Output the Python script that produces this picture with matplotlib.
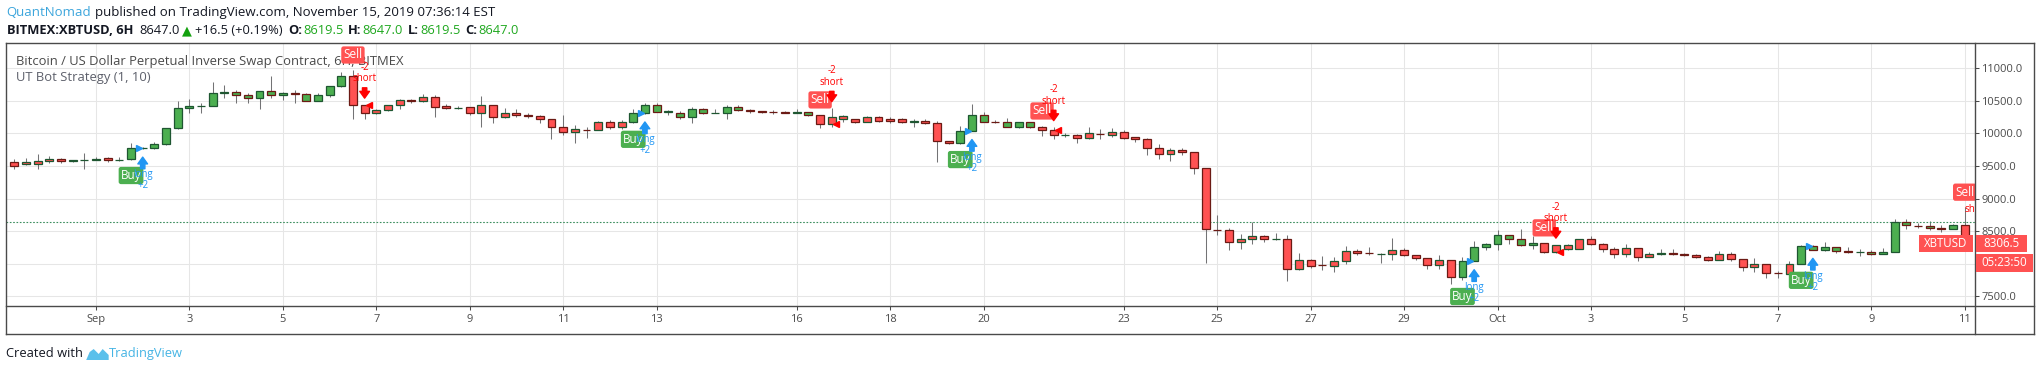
import numpy as np
import pandas as pd
import matplotlib
matplotlib.use("Agg")
import matplotlib.pyplot as plt
import matplotlib.dates as mdates
import matplotlib.transforms as mtransforms
from matplotlib.patches import Rectangle, Polygon
from matplotlib.lines import Line2D

plt.rcParams['font.family'] = ['Open Sans', 'DejaVu Sans']

# 6H candles starting Aug 30 06:00 (BITMEX:XBTUSD)
start = "2019-08-30 06:00"
opens = [9557, 9526, 9526, 9572, 9603, 9580, 9585, 9600, 9618, 9590,
         9603, 9772, 9782, 9833, 10079, 10386, 10422, 10427, 10620, 10637,
         10591, 10540, 10653, 10586, 10620, 10607, 10504, 10591, 10729, 10883,
         10432, 10310, 10361, 10432, 10509, 10494, 10555, 10417, 10390, 10402,
         10310, 10432, 10258, 10310, 10279, 10264, 10218, 10095, 10018, 10060,
         10054, 10172, 10095, 10172, 10310, 10432, 10335, 10320, 10248, 10371,
         10320, 10310, 10402, 10356, 10340, 10332, 10325, 10322, 10330, 10279,
         10141, 10218, 10218, 10172, 10248, 10218, 10218, 10182, 10192, 10156,
         9885, 9849, 10038, 10279, 10180, 10172, 10105, 10172, 10095, 10054,
         9972, 9972, 9926, 9995, 9982, 10018, 9941, 9910, 9772, 9680,
         9741, 9711, 9467, 8525, 8520, 8331, 8377, 8428, 8375, 8377,
         7916, 8054, 7980, 7972, 8039, 8193, 8160, 8146, 8146, 8213,
         8131, 8085, 7977, 8054, 7793, 8039, 8254, 8300, 8438, 8377,
         8285, 8315, 8177, 8233, 8233, 8377, 8300, 8223, 8146, 8239,
         8100, 8150, 8160, 8145, 8131, 8100, 8054, 8146, 8070, 7947,
         7993, 7855, 7839, 7993, 8269, 8203, 8254, 8190, 8180, 8177,
         8146, 8177, 8638, 8585, 8582, 8545, 8531, 8592]
highs = [9608, 9618, 9680, 9649, 9629, 9593, 9695, 9634, 9634, 9634,
         9849, 9790, 9864, 10085, 10499, 10525, 10473, 10791, 10740, 10668,
         10617, 10653, 10883, 10642, 10668, 10617, 10617, 10735, 10939, 10975,
         10440, 10371, 10440, 10525, 10525, 10601, 10591, 10448, 10422, 10412,
         10576, 10440, 10386, 10381, 10310, 10279, 10220, 10279, 10125, 10095,
         10192, 10207, 10207, 10371, 10463, 10463, 10361, 10345, 10412, 10392,
         10371, 10432, 10443, 10381, 10345, 10356, 10340, 10381, 10335, 10285,
         10386, 10284, 10228, 10269, 10269, 10258, 10233, 10218, 10218, 10187,
         9890, 10115, 10453, 10335, 10207, 10233, 10175, 10180, 10115, 10095,
         10013, 9987, 10095, 10064, 10079, 10054, 9951, 9936, 9838, 9772,
         9772, 9715, 9470, 8751, 8546, 8459, 8643, 8438, 8469, 8438,
         8162, 8075, 8121, 8100, 8264, 8223, 8254, 8162, 8397, 8239,
         8131, 8085, 8131, 8054, 8100, 8356, 8315, 8520, 8438, 8536,
         8418, 8320, 8290, 8300, 8377, 8428, 8315, 8254, 8300, 8239,
         8177, 8223, 8223, 8162, 8146, 8111, 8198, 8172, 8070, 8085,
         7995, 7895, 8039, 8285, 8290, 8331, 8254, 8254, 8223, 8203,
         8239, 8684, 8684, 8623, 8653, 8592, 8607, 8868]
lows = [9460, 9516, 9460, 9552, 9552, 9562, 9449, 9600, 9567, 9582,
        9600, 9765, 9757, 9830, 10075, 10310, 10310, 10420, 10540, 10473,
        10473, 10381, 10540, 10514, 10463, 10499, 10499, 10566, 10719, 10228,
        10218, 10299, 10351, 10381, 10463, 10484, 10258, 10371, 10371, 10279,
        10105, 10166, 10233, 10258, 10233, 10166, 9910, 9977, 9859, 9931,
        10050, 10074, 10074, 10156, 10305, 10325, 10284, 10218, 10166, 10299,
        10310, 10228, 10345, 10320, 10320, 10304, 10310, 10310, 10269, 10079,
        10095, 10182, 10156, 10170, 10172, 10166, 10156, 10095, 10146, 9567,
        9838, 9845, 10035, 10170, 10156, 10095, 10079, 10090, 9967, 9910,
        9941, 9849, 9915, 9915, 9951, 9915, 9864, 9665, 9613, 9582,
        9675, 9383, 8018, 8443, 8213, 8233, 8305, 8331, 8367, 7737,
        7910, 7937, 7906, 7865, 7988, 8141, 8131, 8018, 8059, 8111,
        8059, 7916, 7916, 7691, 7742, 8035, 8203, 8203, 8305, 8264,
        8233, 8162, 8162, 8203, 8233, 8290, 8182, 8080, 8100, 8039,
        8100, 8141, 8131, 8111, 8085, 8039, 8050, 8039, 7895, 7865,
        7773, 7773, 7835, 7990, 8210, 8200, 8162, 8162, 8111, 8131,
        8146, 8175, 8536, 8546, 8515, 8485, 8531, 8408]
closes = [9501, 9557, 9572, 9603, 9572, 9585, 9600, 9615, 9588, 9600,
          9772, 9782, 9833, 10079, 10386, 10422, 10427, 10617, 10632, 10586,
          10540, 10653, 10586, 10627, 10612, 10504, 10591, 10729, 10883, 10432,
          10310, 10361, 10432, 10509, 10500, 10555, 10412, 10386, 10397, 10310,
          10432, 10258, 10310, 10279, 10274, 10218, 10095, 10018, 10064, 10054,
          10172, 10095, 10172, 10310, 10432, 10335, 10340, 10248, 10371, 10320,
          10322, 10402, 10356, 10351, 10335, 10330, 10320, 10326, 10279, 10141,
          10258, 10269, 10172, 10248, 10187, 10187, 10172, 10187, 10156, 9885,
          9849, 10038, 10279, 10172, 10177, 10105, 10172, 10095, 10049, 9972,
          9977, 9926, 10002, 9992, 10018, 9936, 9910, 9772, 9680, 9741,
          9711, 9465, 8531, 8520, 8331, 8382, 8428, 8377, 8380, 7916,
          8054, 7972, 7977, 8039, 8193, 8162, 8157, 8150, 8213, 8126,
          8085, 7977, 8054, 7793, 8039, 8254, 8300, 8438, 8377, 8285,
          8315, 8177, 8285, 8285, 8377, 8300, 8223, 8146, 8239, 8100,
          8146, 8157, 8155, 8141, 8100, 8054, 8146, 8070, 7947, 7993,
          7855, 7850, 7993, 8269, 8213, 8254, 8188, 8186, 8184, 8146,
          8177, 8638, 8592, 8580, 8546, 8540, 8592, 8408]

# UT Bot signals (bar index) - strategy enters on the next bar
buy_bars = [10, 53, 81, 124, 153]
sell_bars = [29, 69, 88, 131, 167]

tick_dates = ["2019-09-01", "2019-09-03", "2019-09-05", "2019-09-07", "2019-09-09",
              "2019-09-11", "2019-09-13", "2019-09-16", "2019-09-18", "2019-09-20",
              "2019-09-23", "2019-09-25", "2019-09-27", "2019-09-29", "2019-10-01",
              "2019-10-03", "2019-10-05", "2019-10-07", "2019-10-09", "2019-10-11"]
tick_labels = ["Sep", "3", "5", "7", "9", "11", "13", "16", "18", "20",
               "23", "25", "27", "29", "Oct", "3", "5", "7", "9", "11"]
price_ticks = [7500, 8000, 8500, 9000, 9500, 10000, 10500, 11000]
last_close = 8647.0
live_price = 8306.5
countdown = "05:23:50"

W, H = 2041, 371
GREEN = '#4caf50'
RED = '#ff5252'
BLUE = '#2196f3'
FRAME = '#4a4a4a'


def fx(px):
    return px / W


def fy(py):
    return 1 - py / H


fig = plt.figure(figsize=(W / 100, H / 100), dpi=100, facecolor='white')
AX_L, AX_R, AX_T, AX_B = 5.5, 1974.5, 43.3, 306
ax = fig.add_axes([fx(AX_L), fy(AX_B), fx(AX_R) - fx(AX_L), fy(AX_T) - fy(AX_B)])


def ax_xy(px, py):
    return (px - AX_L) / (AX_R - AX_L), (AX_B - py) / (AX_B - AX_T)


o = np.array(opens, float)
h = np.array(highs, float)
l = np.array(lows, float)
c = np.array(closes, float)
n = len(o)
t = mdates.date2num(pd.date_range(start, periods=n, freq='6h'))
sep1 = mdates.date2num(pd.Timestamp("2019-09-01"))

# fill colour follows the strategy position, border follows candle direction
state = False
long_pos = []
for i in range(n):
    if i in buy_bars:
        state = True
    if i in sell_bars:
        state = False
    long_pos.append(state)
fill = [GREEN if p else RED for p in long_pos]
edge = ['#1e5631' if cc >= oo else '#6b1a14' for oo, cc in zip(o, c)]

ax.vlines(t, l, h, color='#737375', lw=0.75, zorder=2)
ax.bar(t, np.maximum(np.abs(c - o), 1.0), bottom=np.minimum(o, c), width=0.17,
       color=fill, edgecolor=edge, linewidth=0.9, zorder=3)

ax.axhline(last_close, color='#3d8f5f', lw=0.8, ls=(0, (1.5, 1.5)), zorder=2)

ax.set_xlim(sep1 - 1.937, sep1 + 40.21)
ax.set_ylim(7350, 11385)
ax.set_xticks(mdates.date2num(pd.to_datetime(tick_dates)))
ax.set_xticklabels(tick_labels)
ax.yaxis.tick_right()
ax.set_yticks(price_ticks)
ax.set_yticklabels(['%.1f' % p for p in price_ticks])
ax.tick_params(axis='both', colors=FRAME, labelcolor='#4a4a4a', length=3,
               width=0.75, labelsize=8)
ax.tick_params(axis='x', pad=3)
ax.tick_params(axis='y', pad=2)
ax.grid(True, color='#e6e6e6', lw=0.75)
ax.set_axisbelow(True)
for s in ax.spines.values():
    s.set_visible(False)

# title / study name
x0, y0 = ax_xy(15.6, 61.5)
ax.text(x0, y0, 'Bitcoin / US Dollar Perpetual Inverse Swap Contract, 6H, BITMEX',
        transform=ax.transAxes, fontsize=9.4, color='#4a4a4a', va='center', zorder=1)
x0, y0 = ax_xy(15.6, 77.8)
ax.text(x0, y0, 'UT Bot Strategy (1, 10)', transform=ax.transAxes, fontsize=9.4,
        color='#5d606b', va='center', zorder=1)

# signal labels
for b in buy_bars:
    ax.annotate('Buy', xy=(t[b], l[b]), xytext=(0, -16), textcoords='offset pixels',
                ha='center', va='center', color='white', fontsize=8.5, zorder=6,
                bbox=dict(boxstyle='round,pad=0.18,rounding_size=0.2', fc=GREEN, ec='none'))
for b in sell_bars:
    ax.annotate('Sell', xy=(t[b], h[b]), xytext=(0, 15), textcoords='offset pixels',
                ha='center', va='center', color='white', fontsize=8.5, zorder=6,
                clip_on=True,
                bbox=dict(boxstyle='round,pad=0.18,rounding_size=0.2', fc=RED, ec='none'))

# strategy entries
arrow = 'simple,head_length=0.7,head_width=1.0,tail_width=0.45'
for b in buy_bars:
    e = b + 1
    ax.annotate('', xy=(t[e], l[e]), xytext=(0, -20), textcoords='offset pixels',
                arrowprops=dict(arrowstyle=arrow, color=BLUE, shrinkA=0, shrinkB=6,
                                mutation_scale=7), zorder=7)
    ax.annotate('long', xy=(t[e], l[e]), xytext=(0, -26), textcoords='offset pixels',
                ha='center', va='center', color=BLUE, fontsize=7, zorder=7)
    ax.annotate('+2', xy=(t[e], l[e]), xytext=(0, -37), textcoords='offset pixels',
                ha='center', va='center', color=BLUE, fontsize=7, zorder=7)
    tr = mtransforms.offset_copy(ax.transData, fig=fig, x=-4, y=0, units='dots')
    ax.plot(t[e], o[e], marker='>', ms=4.5, color=BLUE, transform=tr, zorder=7)
for b in sell_bars:
    e = b + 1
    if e >= n:
        tr = mtransforms.offset_copy(ax.transData, fig=fig, x=0, y=-2, units='dots')
        ax.text(t[-1] + 0.25, h[-1], 'short', transform=tr, ha='center', va='center',
                color='red', fontsize=7, clip_on=True, zorder=7)
        continue
    ax.annotate('', xy=(t[e], h[e]), xytext=(0, 17), textcoords='offset pixels',
                arrowprops=dict(arrowstyle=arrow, color='red', shrinkA=0, shrinkB=4.8,
                                mutation_scale=7), zorder=7)
    ax.annotate('short', xy=(t[e], h[e]), xytext=(0, 26), textcoords='offset pixels',
                ha='center', va='center', color='red', fontsize=7, zorder=7)
    ax.annotate('-2', xy=(t[e], h[e]), xytext=(0, 37.5), textcoords='offset pixels',
                ha='center', va='center', color='red', fontsize=7, zorder=7)
    tr = mtransforms.offset_copy(ax.transData, fig=fig, x=4, y=0, units='dots')
    ax.plot(t[e], o[e], marker='<', ms=4.5, color='red', transform=tr, zorder=7)

# frame lines
frame = [((AX_L, 2034), (AX_T, AX_T)), ((AX_L, 2034), (334, 334)),
         ((AX_L, AX_L), (AX_T, 334)), ((2034, 2034), (AX_T, 334)),
         ((AX_R, AX_R), (AX_T, 334)), ((AX_L, 2034), (AX_B, AX_B))]
for xs, ys in frame:
    fig.add_artist(Line2D([fx(xs[0]), fx(xs[1])], [fy(ys[0]), fy(ys[1])],
                          color=FRAME, lw=1.0, transform=fig.transFigure, zorder=8))

# price scale labels
live_y = H - ax.transData.transform((0, live_price))[1]


def px_box(x0, x1, yc, hh, text, fs=8.3):
    fig.add_artist(Rectangle((fx(x0), fy(yc + hh / 2)), fx(x1) - fx(x0), hh / H,
                             transform=fig.transFigure, fc=RED, ec='none', zorder=9))
    fig.text(fx((x0 + x1) / 2), fy(yc), text, color='white', fontsize=fs,
             ha='center', va='center', zorder=10)


px_box(1919.3, 1972.7, live_y, 17.3, 'XBTUSD')
px_box(1975.5, 2026.7, live_y, 17.3, '%.1f' % live_price)
px_box(1975.5, 2033.3, live_y + 19.2, 17.7, countdown)

# header / footer: text runs laid out one after another
renderer = fig.canvas.get_renderer()


def text_run(x, y, parts, size):
    for gap, s, col, wt in parts:
        x += gap
        txt = fig.text(fx(x), fy(y), s, color=col, fontsize=size, fontweight=wt,
                       va='center')
        x = txt.get_window_extent(renderer).x1
    return x


text_run(6.3, 12.8, [(0, 'QuantNomad', '#3ba5dc', 'normal'),
                     (4, 'published on TradingView.com, November 15, 2019 07:36:14 EST',
                      '#131722', 'normal')], 9.5)
text_run(6.7, 31, [(0, 'BITMEX:XBTUSD, 6H', '#131722', 'bold'),
                   (6, '%.1f' % last_close, '#131722', 'normal'),
                   (3, '\u25b2', '#13a10e', 'normal'),
                   (3, '+16.5 (+0.19%)', '#131722', 'normal'),
                   (5, 'O:', '#131722', 'bold'), (1, '8619.5', '#1fa81f', 'normal'),
                   (5, 'H:', '#131722', 'bold'), (1, '8647.0', '#1fa81f', 'normal'),
                   (5, 'L:', '#131722', 'bold'), (1, '8619.5', '#1fa81f', 'normal'),
                   (5, 'C:', '#131722', 'bold'), (1, '8647.0', '#1fa81f', 'normal')], 9.3)

x_end = text_run(6.3, 353.5, [(0, 'Created with', '#131722', 'normal')], 9.3)
logo_x = [0, 3.5, 7.5, 12.5, 16.5, 22.5, 22.5]
logo_y = [360, 352, 349, 354, 349, 355, 360]
fig.add_artist(Polygon([(fx(x_end + 3 + a), fy(b)) for a, b in zip(logo_x, logo_y)],
                       closed=True, transform=fig.transFigure, fc='#5bc0eb', ec='none'))
text_run(x_end + 26, 353.5, [(0, 'TradingView', '#45b4e4', 'normal')], 9.3)

fig.savefig('out.png', dpi=100, facecolor='white')
